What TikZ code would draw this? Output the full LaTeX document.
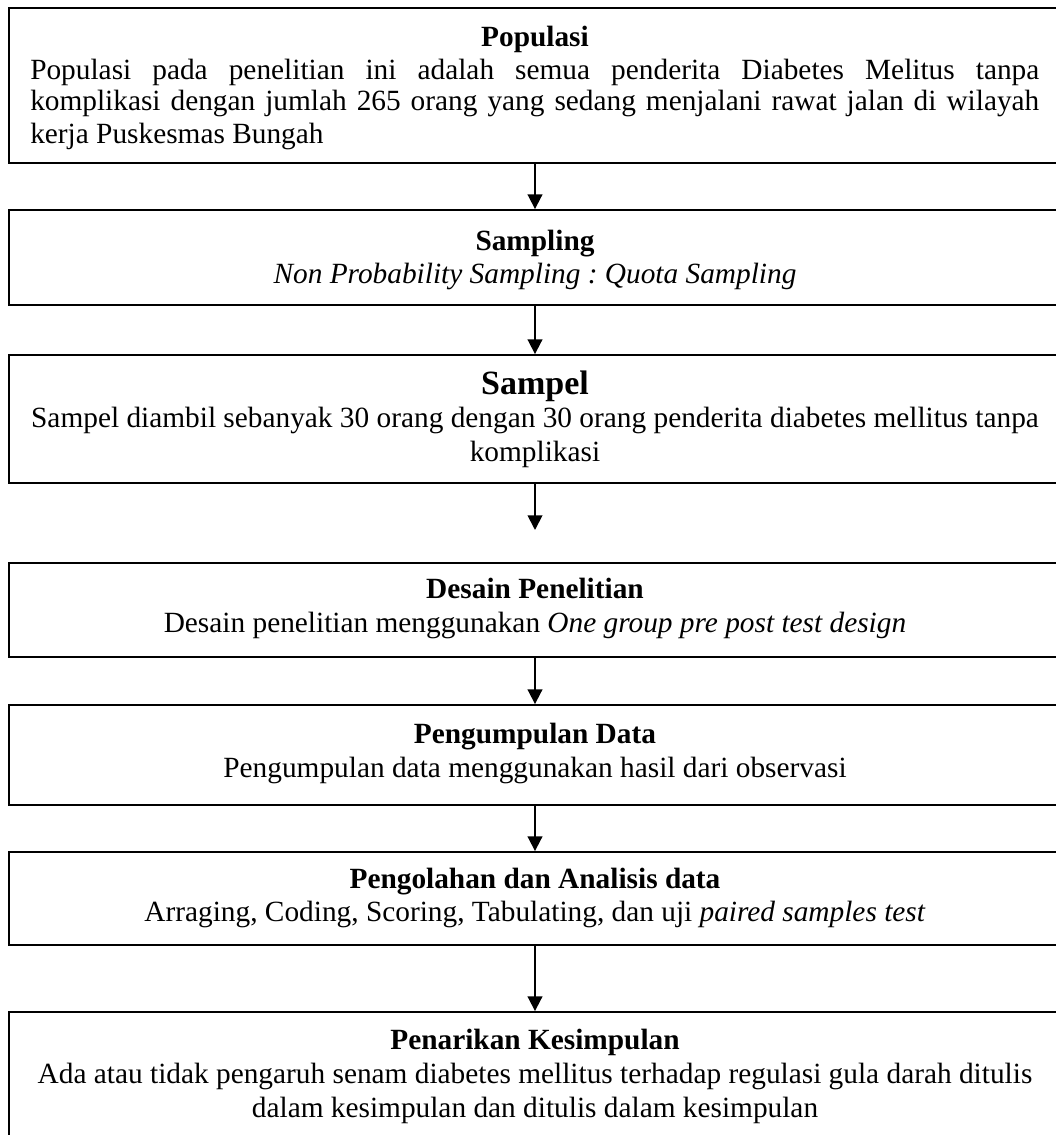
\documentclass[tikz,border=0pt]{standalone}
\usepackage{fontspec}
\setmainfont{Liberation Serif}
\usetikzlibrary{arrows.meta}
\frenchspacing
\begin{document}
\begin{tikzpicture}[x=0.75pt,y=-0.75pt,
  frame/.style={draw, line width=1.4pt, inner sep=0pt, minimum width=789pt},
  ttl/.style={inner sep=0pt, anchor=base, font=\fontsize{22}{25.5}\selectfont\bfseries},
  body/.style={inner sep=0pt, anchor=base, font=\fontsize{22}{25.5}\selectfont},
  arr/.style={line width=1.4pt, -{Triangle[length=11pt,width=11pt]}}]
\useasboundingbox (0,0) rectangle (1056,1135);
\clip (0,0) rectangle (1056,1135);
% boxes
\node[frame, minimum height=116.25pt] (b1) at (535,85.5) {};
\node[frame, minimum height=71.25pt] (b2) at (535,257.5) {};
\node[frame, minimum height=96pt] (b3) at (535,419) {};
\node[frame, minimum height=70.5pt] (b4) at (535,610) {};
\node[frame, minimum height=75pt] (b5) at (535,755) {};
\node[frame, minimum height=69.75pt] (b6) at (535,898.5) {};
\node[frame, minimum height=118.5pt] (b7) at (535,1091) {};
\coordinate (c3) at (535,530);
% arrows
\draw[arr] (b1.south) -- (b2.north);
\draw[arr] (b2.south) -- (b3.north);
\draw[arr] (b3.south) -- (c3);
\draw[arr] (b4.south) -- (b5.north);
\draw[arr] (b5.south) -- (b6.north);
\draw[arr] (b6.south) -- (b7.north);
% texts
\node[ttl] (t1) at (535,46) {Populasi};
\node[inner sep=0pt, anchor=base west, text width=756.75pt, align=justify,
  font=\fontsize{22}{24}\selectfont] (p1) at (30,79)
  {Populasi pada penelitian ini adalah semua penderita Diabetes Melitus tanpa\linebreak
   komplikasi dengan jumlah 265 orang yang sedang menjalani rawat jalan di wilayah\linebreak
   kerja Puskesmas Bungah};
\node[ttl] (t2) at (535,250) {Sampling};
\node[body] (p2) at (535,283) {\itshape Non Probability Sampling : Quota Sampling};
\node[ttl, font=\fontsize{25.5}{28}\selectfont\bfseries] (t3) at (535,394) {Sampel};
\node[body] (p3a) at (535,427) {Sampel diambil sebanyak 30 orang dengan 30 orang penderita diabetes mellitus tanpa};
\node[body] (p3b) at (535,461) {komplikasi};
\node[ttl] (t4) at (535,598) {Desain Penelitian};
\node[body] (p4) at (535,632) {Desain penelitian menggunakan \textit{One group pre post test design}};
\node[ttl] (t5) at (535,743) {Pengumpulan Data};
\node[body] (p5) at (535,777) {Pengumpulan data menggunakan hasil dari observasi};
\node[ttl] (t6) at (535,888) {Pengolahan dan Analisis data};
\node[body] (p6) at (535,921) {Arraging, Coding, Scoring, Tabulating, dan uji \textit{paired samples test}};
\node[ttl] (t7) at (535,1049) {Penarikan Kesimpulan};
\node[body] (p7a) at (535,1083) {Ada atau tidak pengaruh senam diabetes mellitus terhadap regulasi gula darah ditulis};
\node[body] (p7b) at (535,1117) {dalam kesimpulan dan ditulis dalam kesimpulan};
\end{tikzpicture}
\end{document}
